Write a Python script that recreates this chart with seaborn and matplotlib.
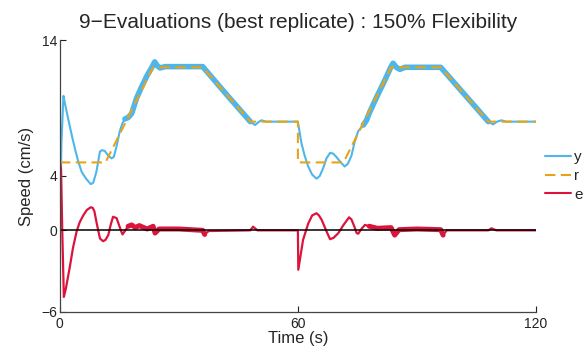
import matplotlib
matplotlib.use("Agg")
import matplotlib.pyplot as plt
import seaborn as sns
import numpy as np
from matplotlib.lines import Line2D

# reference speed r (cm/s)
t_r = [0, 11.5, 23.5, 36, 48, 60, 60, 71.5, 83.5, 96, 108, 120]
r_vals = [5, 5, 12, 12, 8, 8, 5, 5, 12, 12, 8, 8]

# measured speed y
t_y = [0, 0.4, 0.9, 1.3, 2.1, 3.0, 3.8, 4.6, 5.5, 6.6, 7.8, 8.4, 9.2, 10.1, 10.6,
       11.3, 12.2, 13.0, 13.6, 14.3, 15.1, 15.8, 16.4, 17.2, 18.1, 19.3, 20.5, 22.0,
       23.2, 23.9, 24.6, 25.3, 26.5, 30, 36, 42, 48, 49.2, 50.0, 50.8, 52, 60,
       60.9, 61.7, 62.6, 63.6, 64.7, 65.5, 66.4, 67.2, 68.1, 68.9, 69.7, 70.8, 71.8,
       72.6, 73.5, 74.3, 75.2, 76.5, 77.3, 78.1, 80, 82, 83.4, 84.0, 84.8, 85.7, 87,
       96, 102, 108, 109.2, 110.2, 111.3, 112.5, 120]
y_vals = [0, 6.5, 9.9, 9.3, 8.2, 7.0, 6.0, 5.1, 4.3, 3.8, 3.4, 3.5, 4.3, 5.8, 5.9,
          5.85, 5.5, 5.3, 5.4, 6.2, 7.3, 7.9, 8.2, 8.3, 8.6, 9.7, 10.5, 11.4,
          12.0, 12.4, 12.1, 11.95, 12.05, 12.05, 12.05, 10.0, 8.0, 7.75, 7.95, 8.1, 8.0, 8.0,
          6.4, 5.5, 4.7, 4.1, 3.8, 4.0, 4.6, 5.3, 5.7, 5.65, 5.4, 5.0, 4.7,
          4.9, 5.5, 6.5, 7.3, 7.75, 8.1, 8.7, 9.9, 11.1, 12.0, 12.3, 12.0, 11.85, 12.0,
          12.0, 10.0, 8.0, 7.8, 8.0, 8.1, 8.0, 8.0]

# error e
t_e = [0, 0.3, 0.6, 1.0, 1.5, 2.5, 3.3, 4.2, 5.0, 5.9, 6.8, 7.8, 8.3, 8.7, 9.3,
       10.1, 10.9, 11.5, 12.2, 12.8, 13.4, 14.3, 14.9, 15.5, 15.8, 16.5, 17.2, 18.1,
       19, 20, 22, 23.5, 24, 25, 30, 36, 36.5, 37.5, 48, 48.7, 49.8, 60,
       60.1, 61.3, 62.6, 63.6, 64.7, 65.3, 66.0, 67.1, 68.1, 69.0, 70.2, 71.5, 72.9,
       73.5, 74.2, 74.8, 75.2, 76.0, 76.9, 78, 80, 83.5, 84.4, 85.5, 90, 96, 96.6,
       97.5, 108, 108.8, 110, 120]
e_vals = [5.0, 4.5, 0, -4.9, -4.3, -2.7, -1.3, -0.1, 0.6, 1.1, 1.5, 1.7, 1.65, 1.4, 0.5,
          -0.6, -0.8, -0.7, -0.35, 0.4, 1.0, 0.9, 0.4, -0.1, -0.3, 0.0, 0.3, 0.4,
          0.2, 0.35, 0.1, 0.3, -0.2, 0.1, 0.1, 0.0, -0.3, -0.05, 0.0, 0.27, 0.0, 0.0,
          -2.9, -0.7, 0.5, 1.1, 1.26, 1.1, 0.77, 0.0, -0.65, -0.55, -0.2, 0.4, 0.96,
          0.8, 0.3, -0.2, -0.25, 0.1, 0.4, 0.3, 0.15, 0.2, -0.35, 0.05, 0.1, 0.05, -0.35,
          0.0, 0.0, 0.15, 0.0, 0.0]

# time windows where the signals chatter (drawn as a wider band)
noisy_y = [(16, 49), (76, 109)]
noisy_e = [(17, 37), (77, 97)]

c_y = '#4DB6EA'
c_r = '#E8A317'
c_e = '#DC143C'

sns.set_style('ticks')
plt.rcParams['font.family'] = ['Liberation Sans', 'DejaVu Sans']

fig = plt.figure(figsize=(5.87, 3.52), dpi=100)
ax = fig.add_axes([0.102, 0.114, 0.811, 0.772])


def band(t, v, windows, color, lw):
    t = np.asarray(t)
    v = np.asarray(v)
    for a, b in windows:
        m = (t >= a) & (t <= b)
        sns.lineplot(x=t[m], y=v[m], color=color, lw=lw, estimator=None,
                     sort=False, ax=ax)


sns.lineplot(x=t_y, y=y_vals, color=c_y, lw=1.5, estimator=None, sort=False, ax=ax)
band(t_y, y_vals, noisy_y, c_y, 4.0)
sns.lineplot(x=t_r, y=r_vals, color=c_r, lw=1.5, estimator=None, sort=False, ax=ax,
             dashes=False, linestyle=(0, (5, 2.6)))
sns.lineplot(x=t_e, y=e_vals, color=c_e, lw=1.6, estimator=None, sort=False, ax=ax)
band(t_e, e_vals, noisy_e, c_e, 3.6)
ax.plot([0, 120], [0, 0], color='black', lw=1.1)

ax.set_xlim(0, 120)
ax.set_ylim(-6, 14)
ax.set_xticks([0, 60, 120])
ax.set_yticks([-6, 0, 4, 14])
ax.set_yticklabels(['\u22126', '0', '4', '14'])
ax.tick_params(direction='in', length=4, width=0.8, labelsize=10, colors='#222222', pad=2)
ax.tick_params(axis='x', pad=4)
for s in ['left', 'bottom']:
    ax.spines[s].set_color('#444444')
    ax.spines[s].set_linewidth(0.9)
sns.despine(ax=ax)

ax.set_xlabel('Time (s)', fontsize=12, labelpad=0)
ax.set_ylabel('Speed (cm/s)', fontsize=12, labelpad=5)
ax.set_title('9\u2212Evaluations (best replicate) : 150% Flexibility', fontsize=15, pad=9)

handles = [Line2D([], [], color=c_y, lw=1.5),
           Line2D([], [], color=c_r, lw=1.5, linestyle=(0, (5, 2.6))),
           Line2D([], [], color=c_e, lw=1.5)]
ax.legend(handles, ['y', 'r', 'e'], loc='center left', bbox_to_anchor=(1.0, 0.5),
          frameon=False, fontsize=11, handlelength=1.7, handletextpad=0.2,
          labelspacing=0.3, borderaxespad=0.2)

fig.savefig('out.png', dpi=100)
